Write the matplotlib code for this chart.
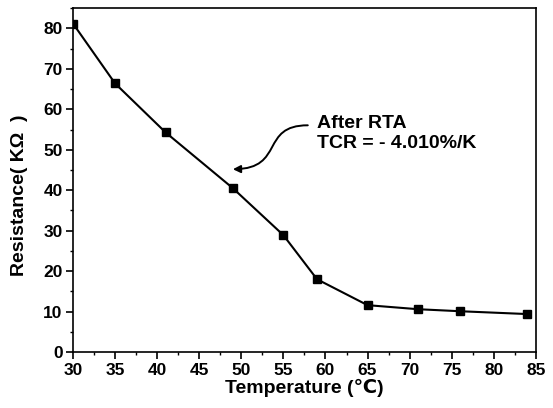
import matplotlib
matplotlib.use("Agg")
import matplotlib.pyplot as plt
from matplotlib.ticker import MultipleLocator
from matplotlib.patches import FancyArrowPatch
from matplotlib.path import Path

temperature = [30, 35, 41, 49, 55, 59, 65, 71, 76, 84]
resistance = [81.2, 66.4, 54.3, 40.5, 28.9, 18.0, 11.6, 10.6, 10.1, 9.4]
x_ticks = [30, 35, 40, 45, 50, 55, 60, 65, 70, 75, 80, 85]
y_ticks = [0, 10, 20, 30, 40, 50, 60, 70, 80]

plt.rcParams['font.family'] = ['Liberation Sans', 'DejaVu Sans']
plt.rcParams['font.weight'] = 'bold'

fig = plt.figure(figsize=(5.53, 4.08), dpi=100)
ax = fig.add_axes([0.132, 0.137, 0.837, 0.843])
ax.plot(temperature, resistance, color='black', lw=1.5, marker='s', ms=5.5,
        mfc='black', mec='black')
ax.set_xlim(30, 85)
ax.set_ylim(0, 85)
ax.set_xticks(x_ticks)
ax.set_yticks(y_ticks)
ax.xaxis.set_minor_locator(MultipleLocator(2.5))
ax.yaxis.set_minor_locator(MultipleLocator(5))
ax.tick_params(axis='both', which='major', direction='out', length=5, width=1.2,
               labelsize=12.5, pad=2.5)
ax.tick_params(axis='both', which='minor', direction='out', length=2.5, width=1)
for lbl in ax.get_xticklabels() + ax.get_yticklabels():
    lbl.set_fontweight('bold')
for s in ax.spines.values():
    s.set_linewidth(1.2)
ax.set_xlabel('Temperature (\u2103)', fontsize=14, fontweight='bold', labelpad=1)
ax.set_ylabel('Resistance( K\u03a9  )', fontsize=14, fontweight='bold')
ax.yaxis.set_label_coords(-0.098, 0.455)

ax.text(59.0, 55.3, 'After RTA', fontsize=14, fontweight='bold',
        va='baseline', ha='left')
ax.text(59.0, 50.4, 'TCR = - 4.010%/K', fontsize=14, fontweight='bold',
        va='baseline', ha='left')

verts = [(57.9, 56.05), (52.2, 56.05), (55.2, 45.4), (49.0, 45.2)]
codes = [Path.MOVETO, Path.CURVE4, Path.CURVE4, Path.CURVE4]
arrow = FancyArrowPatch(path=Path(verts, codes), arrowstyle='-|>', color='black',
                        lw=1.4, mutation_scale=11, transform=ax.transData)
ax.add_patch(arrow)

fig.savefig('out.png', dpi=100)
